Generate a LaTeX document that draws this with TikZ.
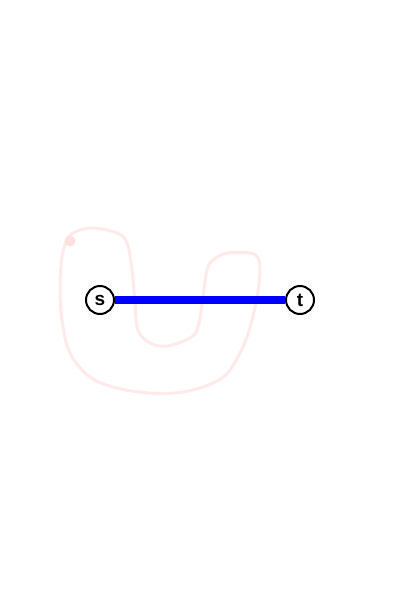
\documentclass[tikz,border=0pt]{standalone}
\usepackage{fontspec}
\setmainfont{Liberation Sans}
\usepackage{xcolor}
\usepackage{tikz}
\definecolor{tracepink}{RGB}{255,234,234}
\definecolor{dotpink}{RGB}{255,224,224}
\tikzset{
  vertex/.style={circle, draw=black, line width=2pt, fill=white,
    minimum size=28pt, inner sep=0pt, font=\bfseries\fontsize{19}{19}\selectfont},
  flow/.style={blue, line width=8pt},
}

\begin{document}
\begin{tikzpicture}[x=1pt, y=-1pt]
  \useasboundingbox (0,0) rectangle (400,600);
  % faint trace behind the edge
  \draw[tracepink, line width=3pt] plot[smooth cycle, tension=0.6] coordinates {
    (67,240) (75,232) (93,228) (117,233) (127,243) (132,270) (135,303)
    (138,330) (150,343) (167,346) (190,338) (198,327) (203,297) (207,270)
    (213,260) (227,253) (250,253) (258,258) (260,270) (257,297) (247,337)
    (230,370) (213,383) (183,392) (150,393) (117,388) (90,377) (70,353)
    (62,320) (60,287) (62,257)};
  \fill[dotpink] (70,241) circle (5.5);
  \node[vertex] (s) at (100,300) {s};
  \node[vertex] (t) at (300,300) {t};
  \draw[flow] (s) -- (t);
\end{tikzpicture}
\end{document}
